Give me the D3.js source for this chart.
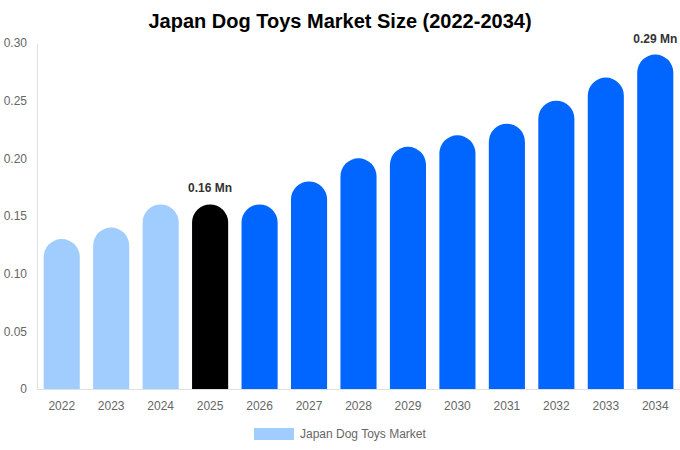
<!DOCTYPE html>
<html>
<head>
<meta charset="utf-8">
<script src="https://cdn.jsdelivr.net/npm/d3@7"></script>
<style>
  body { margin: 0; background: #fff; font-family: "Liberation Sans", Arial, sans-serif; }
</style>
</head>
<body>
<div id="chart"></div>
<script>
// chart data
var years = ["2022","2023","2024","2025","2026","2027","2028","2029","2030","2031","2032","2033","2034"];
var values = [0.13, 0.14, 0.16, 0.16, 0.16, 0.18, 0.20, 0.21, 0.22, 0.23, 0.25, 0.27, 0.29];
var yTicks = [0, 0.05, 0.10, 0.15, 0.20, 0.25, 0.30];
var labelled = ["2025", "2034"];

var W = 680, H = 450;
var margin = {top: 43, right: 0, bottom: 61, left: 37},
    width = W - margin.left - margin.right,
    height = H - margin.top - margin.bottom;

var svg = d3.select("#chart").append("svg")
  .attr("width", W).attr("height", H);

svg.append("text")
  .attr("x", W / 2).attr("y", 28)
  .attr("text-anchor", "middle")
  .style("font-size", "20px").style("font-weight", "bold").style("fill", "#000")
  .text("Japan Dog Toys Market Size (2022-2034)");

var g = svg.append("g").attr("transform", "translate(" + margin.left + "," + margin.top + ")");

var x = d3.scaleBand().domain(years).range([0, width]).paddingInner(0.27).paddingOuter(0.135);
var y = d3.scaleLinear().domain([0, 0.30]).range([height, 0]);

// y axis
var yAxis = g.append("g")
  .call(d3.axisLeft(y).tickValues(yTicks).tickSize(0).tickPadding(10)
    .tickFormat(function(d) { return d === 0 ? "0" : d3.format(".2f")(d); }));
yAxis.select(".domain").attr("stroke", "#e0e0e0");
yAxis.selectAll("text").style("font-size", "12px").style("fill", "#666")
  .style("font-family", "Liberation Sans, Arial, sans-serif");

// x axis
var xAxis = g.append("g").attr("transform", "translate(0," + height + ")")
  .call(d3.axisBottom(x).tickSize(0).tickPadding(12));
xAxis.select(".domain").attr("stroke", "#e0e0e0");
xAxis.selectAll("text").style("font-size", "12px").style("fill", "#666")
  .style("font-family", "Liberation Sans, Arial, sans-serif");

function colorFor(yr) {
  if (yr === "2025") return "#000000";
  return +yr < 2025 ? "#a0cdfd" : "#0066ff";
}

// bar with a fully rounded top
function barPath(d, i) {
  var bw = x.bandwidth(), r = bw / 2;
  var x0 = x(years[i]), top = y(d), bot = height;
  return "M" + x0 + "," + bot +
    "L" + x0 + "," + (top + r) +
    "A" + r + "," + r + " 0 0 1 " + (x0 + bw) + "," + (top + r) +
    "L" + (x0 + bw) + "," + bot + "Z";
}

g.selectAll("path.bar")
  .data(values)
  .enter().append("path")
  .attr("class", "bar")
  .attr("d", barPath)
  .attr("fill", function(d, i) { return colorFor(years[i]); });

// value labels on selected years
var labelIdx = years.map(function(yr, i) { return i; })
  .filter(function(i) { return labelled.indexOf(years[i]) >= 0; });

g.selectAll("text.val")
  .data(labelIdx)
  .enter().append("text")
  .attr("class", "val")
  .attr("x", function(i) { return Math.min(x(years[i]) + x.bandwidth() / 2, width - 24); })
  .attr("y", function(i) { return y(values[i]) - 12; })
  .attr("text-anchor", "middle")
  .style("font-size", "12px").style("font-weight", "bold").style("fill", "#333")
  .text(function(i) { return values[i].toFixed(2) + " Mn"; });

// legend
var legend = svg.append("g").attr("transform", "translate(254,428)");
legend.append("rect").attr("width", 40).attr("height", 12).attr("fill", "#a0cdfd");
legend.append("text").attr("x", 46).attr("y", 10)
  .style("font-size", "12px").style("fill", "#666")
  .text("Japan Dog Toys Market");
</script>
</body>
</html>
